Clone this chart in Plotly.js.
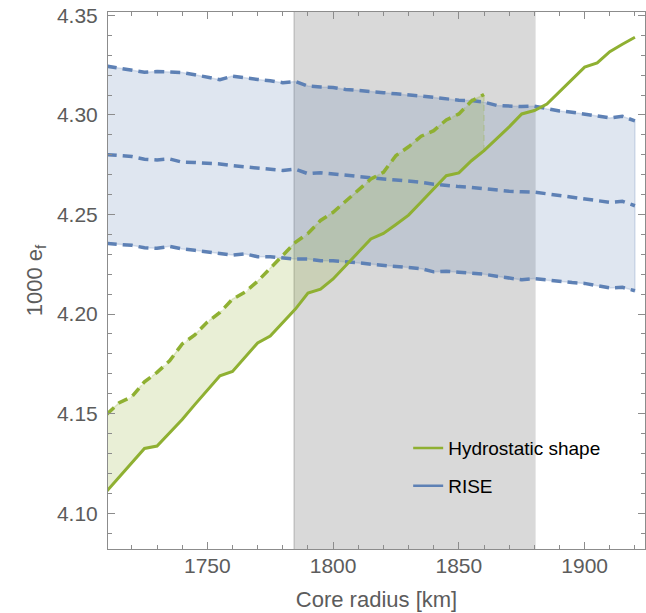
<!DOCTYPE html>
<html>
<head>
<meta charset="utf-8">
<script src="https://cdn.plot.ly/plotly-3.0.1.min.js"></script>
<style>body{margin:0;padding:0;background:#fff;}#chart{width:646px;height:613px;}</style>
</head>
<body>
<div id="chart"></div>
<script>
// Core radius [km]
const radius = [1710,1715,1720,1725,1730,1735,1740,1745,1750,1755,1760,1765,1770,1775,1780,1785,1790,1795,1800,1805,1810,1815,1820,1825,1830,1835,1840,1845,1850,1855,1860,1865,1870,1875,1880,1885,1890,1895,1900,1905,1910,1915,1920];
// Hydrostatic shape, solid line
const hydroSolid = [4.1110,4.1180,4.1255,4.1325,4.1337,4.1405,4.1470,4.1545,4.1620,4.1690,4.1712,4.1785,4.1855,4.1890,4.1958,4.2025,4.2105,4.2125,4.2176,4.2245,4.2310,4.2377,4.2405,4.2450,4.2497,4.2563,4.2630,4.2695,4.2709,4.2770,4.2821,4.2880,4.2940,4.3005,4.3022,4.3055,4.3118,4.3180,4.3240,4.3261,4.3318,4.3355,4.3390];
// Hydrostatic shape, dashed line (1710..1860)
const hydroDashedRadius = [1710,1715,1720,1725,1730,1735,1740,1745,1750,1755,1760,1765,1770,1775,1780,1785,1790,1795,1800,1805,1810,1815,1820,1825,1830,1835,1840,1845,1850,1855,1860];
const hydroDashed = [4.1497,4.1555,4.1585,4.1660,4.1707,4.1765,4.1850,4.1895,4.1960,4.2008,4.2075,4.2110,4.2165,4.2230,4.2300,4.2360,4.2405,4.2470,4.2511,4.2565,4.2620,4.2678,4.2712,4.2796,4.2840,4.2893,4.2921,4.2975,4.3005,4.3070,4.3103];
// RISE upper / central / lower
const riseUpper = [4.3245,4.3235,4.3228,4.3215,4.3218,4.3216,4.3213,4.3202,4.3190,4.3177,4.3195,4.3185,4.3178,4.3172,4.3162,4.3168,4.3145,4.3140,4.3138,4.3128,4.3124,4.3118,4.3112,4.3106,4.3102,4.3095,4.3088,4.3080,4.3074,4.3072,4.3064,4.3048,4.3044,4.3042,4.3044,4.3030,4.3020,4.3014,4.3005,4.2995,4.2985,4.2993,4.2970];
const riseMid = [4.2801,4.2796,4.2791,4.2778,4.2774,4.2779,4.2763,4.2761,4.2758,4.2754,4.2745,4.2738,4.2733,4.2727,4.2721,4.2728,4.2705,4.2710,4.2703,4.2695,4.2689,4.2683,4.2678,4.2673,4.2668,4.2662,4.2652,4.2645,4.2640,4.2636,4.2629,4.2620,4.2617,4.2614,4.2612,4.2604,4.2595,4.2587,4.2578,4.2570,4.2561,4.2566,4.2544];
const riseLower = [4.2355,4.2350,4.2345,4.2333,4.2330,4.2340,4.2327,4.2320,4.2313,4.2304,4.2296,4.2302,4.2288,4.2288,4.2280,4.2276,4.2276,4.2268,4.2268,4.2264,4.2258,4.2250,4.2244,4.2240,4.2234,4.2228,4.2212,4.2215,4.2210,4.2205,4.2200,4.2190,4.2180,4.2172,4.2178,4.2170,4.2163,4.2158,4.2154,4.2142,4.2131,4.2134,4.2117];
// Core radius constraint band
const bandRange = [1784.5, 1880.5];
const legendNames = ['Hydrostatic shape', 'RISE'];

const green = '#8fb032', blue = '#5e81b5';
const solidPart = hydroSolid.slice(0, hydroDashedRadius.length);
const dashStyle = '10px,6px';

const traces = [
  { x: radius.concat(radius.slice().reverse()), y: riseUpper.concat(riseLower.slice().reverse()),
    type: 'scatter', mode: 'lines', fill: 'toself', fillcolor: 'rgba(94,129,181,0.2)',
    line: { color: 'rgba(94,129,181,0.22)', width: 1.5 }, showlegend: false, hoverinfo: 'skip' },
  { x: hydroDashedRadius.concat(hydroDashedRadius.slice().reverse()), y: hydroDashed.concat(solidPart.slice().reverse()),
    type: 'scatter', mode: 'lines', fill: 'toself', fillcolor: 'rgba(143,176,50,0.2)',
    line: { color: 'rgba(143,176,50,0.25)', width: 1.5, dash: '6px,4px' }, showlegend: false, hoverinfo: 'skip' },
  { x: radius, y: riseUpper, type: 'scatter', mode: 'lines', line: { color: blue, width: 3.5, dash: dashStyle }, showlegend: false },
  { x: radius, y: riseMid, type: 'scatter', mode: 'lines', line: { color: blue, width: 3.5, dash: dashStyle }, showlegend: false },
  { x: radius, y: riseLower, type: 'scatter', mode: 'lines', line: { color: blue, width: 3.5, dash: dashStyle }, showlegend: false },
  { x: hydroDashedRadius, y: hydroDashed, type: 'scatter', mode: 'lines', line: { color: green, width: 3.5, dash: dashStyle }, showlegend: false },
  { x: radius, y: hydroSolid, type: 'scatter', mode: 'lines', line: { color: green, width: 3 }, showlegend: false },
  { x: [null], y: [null], type: 'scatter', mode: 'lines', name: legendNames[0], line: { color: green, width: 2.5 }, legend: 'legend', showlegend: true },
  { x: [null], y: [null], type: 'scatter', mode: 'lines', name: legendNames[1], line: { color: blue, width: 2.5 }, legend: 'legend2', showlegend: true }
];

const axisColor = '#8c8c8c';
const tickFont = { family: 'Liberation Sans, Arial, sans-serif', size: 21, color: '#5c5c5c' };
const titleFont = { family: 'Liberation Sans, Arial, sans-serif', size: 22, color: '#5c5c5c' };
const legendFont = { family: 'Liberation Sans, Arial, sans-serif', size: 19, color: '#000' };

const layout = {
  width: 646, height: 613,
  margin: { l: 108, r: 1, t: 12, b: 64 },
  paper_bgcolor: '#fff', plot_bgcolor: '#fff',
  xaxis: {
    range: [1710.5, 1924], tick0: 1700, dtick: 50, ticks: 'inside', ticklen: 7, tickwidth: 1, tickcolor: axisColor,
    showline: true, linecolor: axisColor, linewidth: 1, mirror: 'allticks', showgrid: false, zeroline: false,
    minor: { dtick: 10, ticks: 'inside', ticklen: 4, tickcolor: axisColor, showgrid: false },
    tickfont: tickFont, ticklabelstandoff: -2,
    title: { text: 'Core radius [km]', font: titleFont, standoff: 15 }
  },
  yaxis: {
    range: [4.082, 4.3517], tick0: 4.1, dtick: 0.05, tickformat: '.2f', ticks: 'inside', ticklen: 7, tickwidth: 1, tickcolor: axisColor,
    showline: true, linecolor: axisColor, linewidth: 1, mirror: 'allticks', showgrid: false, zeroline: false,
    minor: { dtick: 0.01, ticks: 'inside', ticklen: 4, tickcolor: axisColor, showgrid: false },
    tickfont: tickFont, ticklabelstandoff: 5,
    title: { text: '1000 e<sub>f</sub>', font: titleFont, standoff: 8 }
  },
  shapes: [
    { type: 'rect', xref: 'x', yref: 'paper', x0: bandRange[0], x1: bandRange[1], y0: 0, y1: 1, fillcolor: '#d9d9d9', line: { width: 0 }, layer: 'below' },
    { type: 'line', xref: 'x', yref: 'paper', x0: bandRange[0], x1: bandRange[0], y0: 0, y1: 1, line: { color: '#b0b0b0', width: 1 }, layer: 'below' }
  ],
  legend: { x: 0.559, y: 0.188, xanchor: 'left', yanchor: 'middle', bgcolor: 'rgba(0,0,0,0)', font: legendFont, itemwidth: 30 },
  legend2: { x: 0.559, y: 0.1175, xanchor: 'left', yanchor: 'middle', bgcolor: 'rgba(0,0,0,0)', font: legendFont, itemwidth: 30 },
  showlegend: true
};

Plotly.newPlot('chart', traces, layout, { displayModeBar: false, staticPlot: true });
</script>
</body>
</html>
